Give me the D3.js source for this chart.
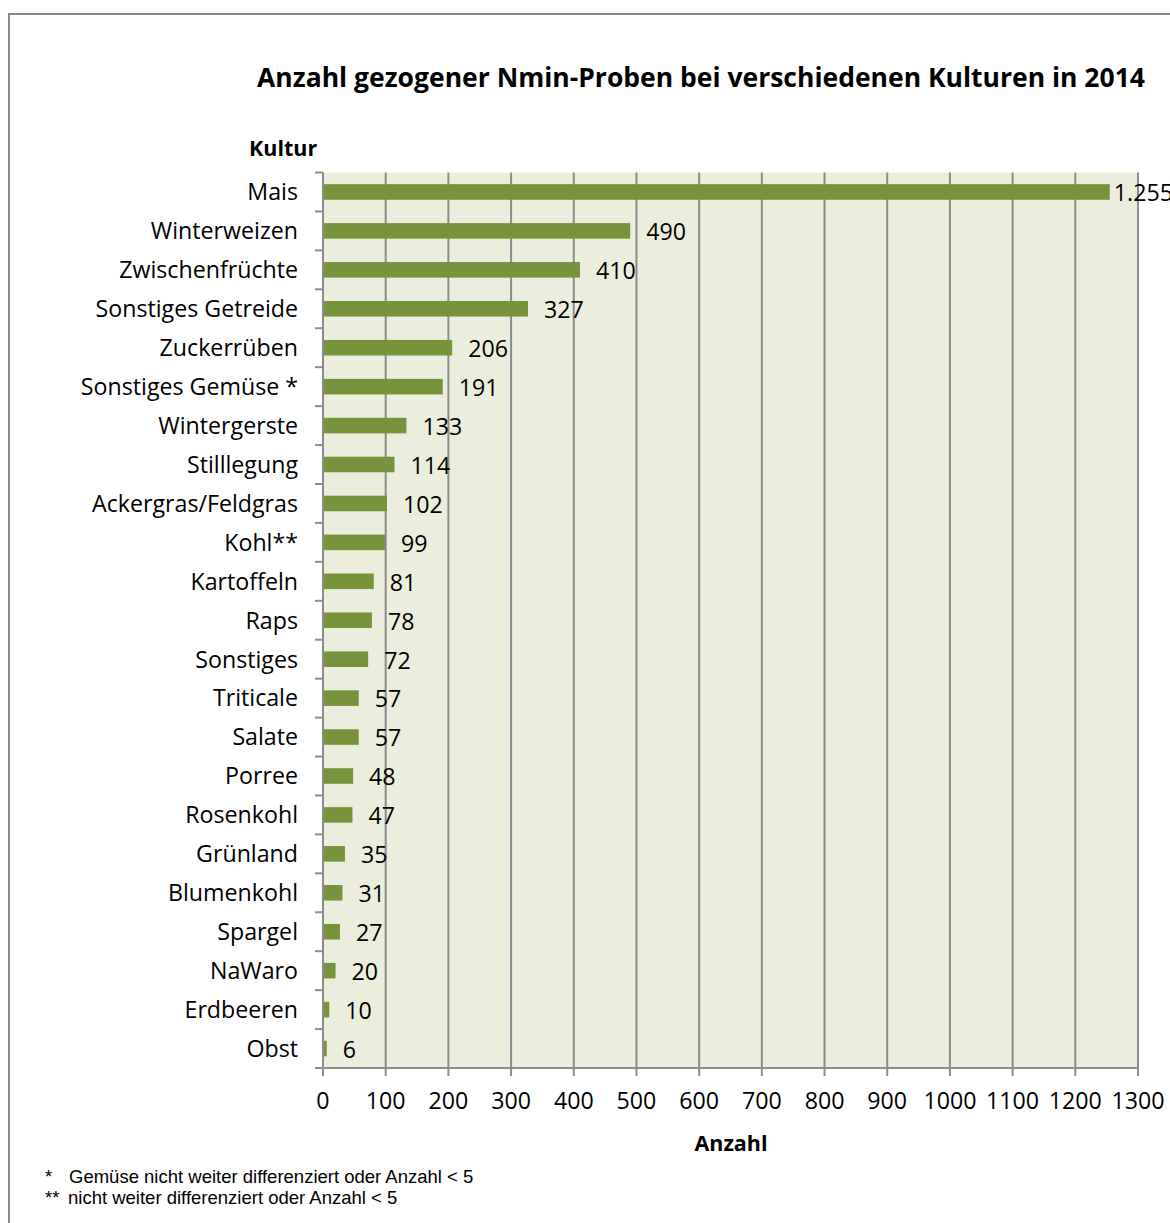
<!DOCTYPE html>
<html>
<head>
<meta charset="utf-8">
<script src="https://cdn.jsdelivr.net/npm/d3@7"></script>
<style>
  body { margin: 0; background: #fff; }
  svg { display: block; }
  text { font-family: "Open Sans", sans-serif; fill: #000; }
  .foot { font-family: "Liberation Sans", Arial, sans-serif; }
</style>
</head>
<body>
<svg width="1170" height="1223"></svg>
<script>
// Kulturen und Anzahl der Proben
const kulturen = ["Mais", "Winterweizen", "Zwischenfrüchte", "Sonstiges Getreide", "Zuckerrüben",
  "Sonstiges Gemüse *", "Wintergerste", "Stilllegung", "Ackergras/Feldgras", "Kohl**",
  "Kartoffeln", "Raps", "Sonstiges", "Triticale", "Salate", "Porree", "Rosenkohl",
  "Grünland", "Blumenkohl", "Spargel", "NaWaro", "Erdbeeren", "Obst"];
const anzahl = [1255, 490, 410, 327, 206, 191, 133, 114, 102, 99, 81, 78, 72, 57, 57, 48, 47, 35, 31, 27, 20, 10, 6];
const xTicks = [0, 100, 200, 300, 400, 500, 600, 700, 800, 900, 1000, 1100, 1200, 1300];

const svg = d3.select("svg");
const plotLeft = 323, plotRight = 1138, plotTop = 172.5, plotBottom = 1068;
const labelSize = "23.2px";

// Rahmen
svg.append("rect")
  .attr("x", 9).attr("y", 14)
  .attr("width", 1200).attr("height", 1240)
  .attr("fill", "none")
  .attr("stroke", "#898989")
  .attr("stroke-width", 2);

const xScale = d3.scaleLinear().domain([0, 1300]).range([plotLeft, plotRight]);
const yScale = d3.scaleBand().domain(kulturen).range([plotTop, plotBottom]).paddingInner(0.6).paddingOuter(0.3);

// Hintergrund
svg.append("rect")
  .attr("x", plotLeft).attr("y", plotTop)
  .attr("width", plotRight - plotLeft).attr("height", plotBottom - plotTop)
  .attr("fill", "#ebeedd");

// Gitterlinien
svg.selectAll(".grid")
  .data(xTicks.slice(1))
  .enter()
  .append("line")
  .attr("x1", d => xScale(d)).attr("x2", d => xScale(d))
  .attr("y1", plotTop).attr("y2", plotBottom)
  .attr("stroke", "#8c8c8c")
  .attr("stroke-width", 2);

// Balken
svg.selectAll(".bar")
  .data(anzahl)
  .enter()
  .append("rect")
  .attr("class", "bar")
  .attr("x", xScale(0))
  .attr("y", (d, i) => yScale(kulturen[i]))
  .attr("width", d => xScale(d) - xScale(0))
  .attr("height", yScale.bandwidth())
  .attr("fill", "#77933c");

const de = d3.formatLocale({ decimal: ",", thousands: ".", grouping: [3], currency: ["", " €"] });
const fmt = de.format(",");

svg.selectAll(".val")
  .data(anzahl)
  .enter()
  .append("text")
  .attr("x", d => xScale(d) + (d > 1000 ? 4 : 16))
  .attr("y", (d, i) => yScale(kulturen[i]) + yScale.bandwidth() / 2 + 1)
  .attr("dy", "0.36em")
  .style("font-size", labelSize)
  .text(d => fmt(d));

// y-Achse
const step = (plotBottom - plotTop) / kulturen.length;
const yAxis = svg.append("g");
yAxis.append("line")
  .attr("x1", plotLeft).attr("x2", plotLeft)
  .attr("y1", plotTop).attr("y2", plotBottom)
  .attr("stroke", "#8c8c8c").attr("stroke-width", 2);
yAxis.selectAll(".yt")
  .data(d3.range(kulturen.length + 1))
  .enter()
  .append("line")
  .attr("x1", plotLeft - 8).attr("x2", plotLeft)
  .attr("y1", i => plotTop + i * step).attr("y2", i => plotTop + i * step)
  .attr("stroke", "#8c8c8c").attr("stroke-width", 2);
yAxis.selectAll(".yl")
  .data(kulturen)
  .enter()
  .append("text")
  .attr("x", plotLeft - 25)
  .attr("y", d => yScale(d) + yScale.bandwidth() / 2)
  .attr("dy", "0.36em")
  .attr("text-anchor", "end")
  .style("font-size", labelSize)
  .text(d => d);

// x-Achse
const xAxis = svg.append("g");
xAxis.append("line")
  .attr("x1", plotLeft - 8).attr("x2", plotRight)
  .attr("y1", plotBottom).attr("y2", plotBottom)
  .attr("stroke", "#8c8c8c").attr("stroke-width", 2);
xAxis.selectAll(".xt")
  .data(xTicks)
  .enter()
  .append("line")
  .attr("x1", d => xScale(d)).attr("x2", d => xScale(d))
  .attr("y1", plotBottom).attr("y2", plotBottom + 8)
  .attr("stroke", "#8c8c8c").attr("stroke-width", 2);
xAxis.selectAll(".xl")
  .data(xTicks)
  .enter()
  .append("text")
  .attr("x", d => xScale(d))
  .attr("y", 1101)
  .attr("dy", "0.36em")
  .attr("text-anchor", "middle")
  .style("font-size", labelSize)
  .text(d => d);

// Titel und Achsentitel
svg.append("text")
  .attr("x", 701).attr("y", 77).attr("dy", "0.36em")
  .attr("text-anchor", "middle")
  .style("font-size", "26.5px").style("font-weight", "bold")
  .text("Anzahl gezogener Nmin-Proben bei verschiedenen Kulturen in 2014");
svg.append("text")
  .attr("x", 249).attr("y", 148).attr("dy", "0.36em")
  .style("font-size", "21.5px").style("font-weight", "bold")
  .text("Kultur");
svg.append("text")
  .attr("x", 731).attr("y", 1143).attr("dy", "0.36em")
  .attr("text-anchor", "middle")
  .style("font-size", "21.5px").style("font-weight", "bold")
  .text("Anzahl");

// Fußnoten
svg.append("text").attr("class", "foot").attr("x", 45).attr("y", 1183).style("font-size", "18.5px").text("*");
svg.append("text").attr("class", "foot").attr("x", 69).attr("y", 1183).style("font-size", "18.5px")
  .text("Gemüse nicht weiter differenziert oder Anzahl < 5");
svg.append("text").attr("class", "foot").attr("x", 45).attr("y", 1204).style("font-size", "18.5px").text("**");
svg.append("text").attr("class", "foot").attr("x", 68).attr("y", 1204).style("font-size", "18.5px")
  .text("nicht weiter differenziert oder Anzahl < 5");
</script>
</body>
</html>
